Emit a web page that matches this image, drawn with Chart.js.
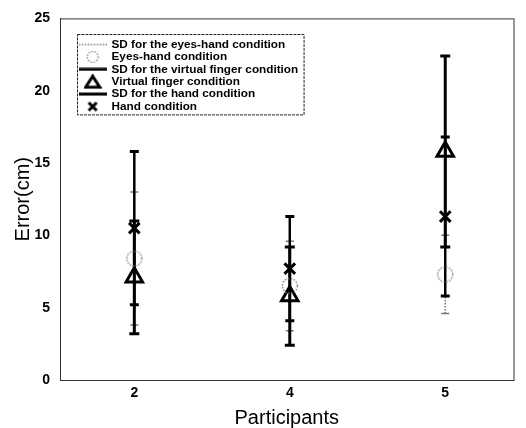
<!DOCTYPE html>
<html>
<head>
<meta charset="utf-8">
<script src="https://cdn.jsdelivr.net/npm/chart.js@4.4.1/dist/chart.umd.min.js"></script>
<style>
html, body { margin: 0; padding: 0; background: #fff; }
#wrap { width: 526px; height: 428px; }
</style>
</head>
<body>
<div id="wrap"><canvas id="c"></canvas></div>
<script>
// values (cm)
const participants = ['2', '4', '5'];
const eyesHandMean = [8.4, 6.5, 7.3];
const eyesHandSD = [4.6, 3.1, 2.7];
const virtualMean = [7.1, 5.8, 15.8];
const virtualSD = [3.9, 3.4, 6.6];
const handMean = [10.5, 7.7, 11.3];
const handSD = [5.3, 3.6, 5.5];

const FONT = "'Liberation Sans', Arial, sans-serif";

// small canvases used as legend symbols / dotted circle marker
function makeIcon(w, h, draw) {
    const cv = document.createElement('canvas');
    cv.width = w;
    cv.height = h;
    const g = cv.getContext('2d');
    draw(g, w, h);
    return cv;
}
const dottedCircle = makeIcon(18, 18, (g) => {
    g.strokeStyle = '#777';
    g.lineWidth = 1.3;
    g.setLineDash([1.5, 1.5]);
    g.beginPath();
    g.arc(9, 9, 7.5, 0, Math.PI * 2);
    g.stroke();
});
const icons = {
    sdDotted: makeIcon(28, 4, (g) => {
        g.strokeStyle = '#777'; g.lineWidth = 1.5; g.setLineDash([1.5, 1.5]);
        g.beginPath(); g.moveTo(0, 2); g.lineTo(28, 2); g.stroke();
    }),
    circle: makeIcon(14, 14, (g) => {
        g.strokeStyle = '#777'; g.lineWidth = 1.2; g.setLineDash([1.5, 1.5]);
        g.beginPath(); g.arc(7, 7, 5.5, 0, Math.PI * 2); g.stroke();
    }),
    sdSolid: makeIcon(28, 4, (g) => {
        g.strokeStyle = '#000'; g.lineWidth = 3;
        g.beginPath(); g.moveTo(0, 2); g.lineTo(28, 2); g.stroke();
    }),
    triangle: makeIcon(18, 15, (g) => {
        g.strokeStyle = '#000'; g.lineWidth = 3; g.lineJoin = 'miter';
        g.beginPath(); g.moveTo(9, 2); g.lineTo(16, 13); g.lineTo(2, 13); g.closePath(); g.stroke();
    }),
    cross: makeIcon(14, 14, (g) => {
        g.strokeStyle = '#000'; g.lineWidth = 3;
        g.beginPath(); g.moveTo(3, 3); g.lineTo(11, 11); g.moveTo(11, 3); g.lineTo(3, 11); g.stroke();
    })
};

// vertical error bar segments, one per participant, separated by gaps
function sdSegments(means, sds) {
    const pts = [];
    means.forEach((m, i) => {
        pts.push({x: i + 1, y: m - sds[i]});
        pts.push({x: i + 1, y: m + sds[i]});
        pts.push({x: i + 1, y: null});
    });
    return pts;
}
function meanPoints(means) {
    return means.map((m, i) => ({x: i + 1, y: m}));
}

const datasets = [
    {
        label: 'SD for the eyes-hand condition',
        data: sdSegments(eyesHandMean, eyesHandSD),
        showLine: true,
        borderColor: '#777',
        borderWidth: 1.5,
        borderDash: [1.5, 1.5],
        pointStyle: 'line',
        pointRadius: 4,
        pointBorderWidth: 1.5,
        pointBorderColor: '#777',
        legendIcon: icons.sdDotted,
        order: 2
    },
    {
        label: 'Eyes-hand condition',
        data: meanPoints(eyesHandMean),
        showLine: false,
        pointStyle: dottedCircle,
        legendIcon: icons.circle,
        order: 0
    },
    {
        label: 'SD for the virtual finger condition',
        data: sdSegments(virtualMean, virtualSD),
        showLine: true,
        borderColor: '#000',
        borderWidth: 3,
        pointStyle: 'line',
        pointRadius: 5,
        pointBorderWidth: 3,
        pointBorderColor: '#000',
        legendIcon: icons.sdSolid,
        order: 1
    },
    {
        label: 'Virtual finger condition',
        data: meanPoints(virtualMean),
        showLine: false,
        pointStyle: 'triangle',
        pointRadius: 9.5,
        pointBorderWidth: 3,
        pointBorderColor: '#000',
        pointBackgroundColor: 'rgba(255,255,255,0)',
        legendIcon: icons.triangle,
        order: 0
    },
    {
        label: 'SD for the hand condition',
        data: sdSegments(handMean, handSD),
        showLine: true,
        borderColor: '#000',
        borderWidth: 2.5,
        pointStyle: 'line',
        pointRadius: 4.5,
        pointBorderWidth: 3,
        pointBorderColor: '#000',
        legendIcon: icons.sdSolid,
        order: 1
    },
    {
        label: 'Hand condition',
        data: meanPoints(handMean),
        showLine: false,
        pointStyle: 'crossRot',
        pointRadius: 7.5,
        pointBorderWidth: 3,
        pointBorderColor: '#000',
        legendIcon: icons.cross,
        order: 0
    }
];

const LEGEND_SHIFT_X = 19;
const LEGEND_SHIFT_Y = 38;

const framePlugin = {
    id: 'framePlugin',
    afterLayout(chart) {
        const lg = chart.legend;
        lg.left += LEGEND_SHIFT_X;
        lg.right += LEGEND_SHIFT_X;
        lg.top += LEGEND_SHIFT_Y;
        lg.bottom += LEGEND_SHIFT_Y;
    },
    afterDraw(chart) {
        const {ctx, chartArea} = chart;
        ctx.save();
        ctx.strokeStyle = '#333';
        ctx.lineWidth = 1;
        ctx.strokeRect(chartArea.left + 0.5, chartArea.top + 0.5, chartArea.width, chartArea.height);
        const lg = chart.legend;
        const col = lg.columnSizes && lg.columnSizes[0];
        if (col) {
            ctx.strokeStyle = '#222';
            ctx.setLineDash([3, 1]);
            ctx.strokeRect(Math.round(lg.left - 2) + 0.5, Math.round(lg.top - 4) + 0.5, col.width + 8, col.height + 6);
        }
        ctx.restore();
    }
};

const ctx = document.getElementById('c').getContext('2d');
new Chart(ctx, {
    type: 'scatter',
    data: {datasets: datasets},
    plugins: [framePlugin],
    options: {
        responsive: true,
        maintainAspectRatio: false,
        animation: false,
        spanGaps: false,
        layout: {padding: {top: 17, right: 8, left: 0, bottom: 0}},
        plugins: {
            tooltip: {enabled: false},
            legend: {
                position: 'chartArea',
                align: 'start',
                labels: {
                    usePointStyle: true,
                    pointStyleWidth: 26,
                    boxHeight: 11.75,
                    padding: 0.65,
                    color: '#000',
                    font: {family: FONT, size: 11.75, weight: 'bold'},
                    sort: (a, b) => a.datasetIndex - b.datasetIndex,
                    generateLabels(chart) {
                        const items = Chart.defaults.plugins.legend.labels.generateLabels(chart);
                        items.forEach(item => {
                            item.pointStyle = chart.data.datasets[item.datasetIndex].legendIcon;
                            item.lineDash = [];
                        });
                        return items;
                    }
                }
            }
        },
        scales: {
            x: {
                type: 'linear',
                min: 0.522,
                max: 3.439,
                afterBuildTicks: (scale) => {
                    scale.ticks = participants.map((p, i) => ({value: i + 1}));
                },
                afterFit: (scale) => { scale.height = 48; },
                ticks: {
                    callback: (v) => participants[v - 1] || '',
                    color: '#000',
                    padding: 5,
                    font: {family: FONT, size: 14, weight: 'bold'}
                },
                grid: {display: false, drawTicks: false},
                border: {color: '#333'},
                title: {
                    display: true,
                    text: 'Participants',
                    color: '#000',
                    padding: {top: 0, bottom: 0},
                    font: {family: FONT, size: 20, lineHeight: 1}
                }
            },
            y: {
                min: 0,
                max: 25,
                afterFit: (scale) => { scale.width = 60; },
                ticks: {
                    stepSize: 5,
                    color: '#000',
                    padding: 10,
                    font: {family: FONT, size: 14, weight: 'bold'}
                },
                grid: {display: false, drawTicks: false},
                border: {color: '#333'},
                title: {
                    display: true,
                    text: 'Error(cm)',
                    color: '#000',
                    padding: {top: 13, bottom: 0},
                    font: {family: FONT, size: 20, lineHeight: 1}
                }
            }
        }
    }
});
</script>
</body>
</html>
